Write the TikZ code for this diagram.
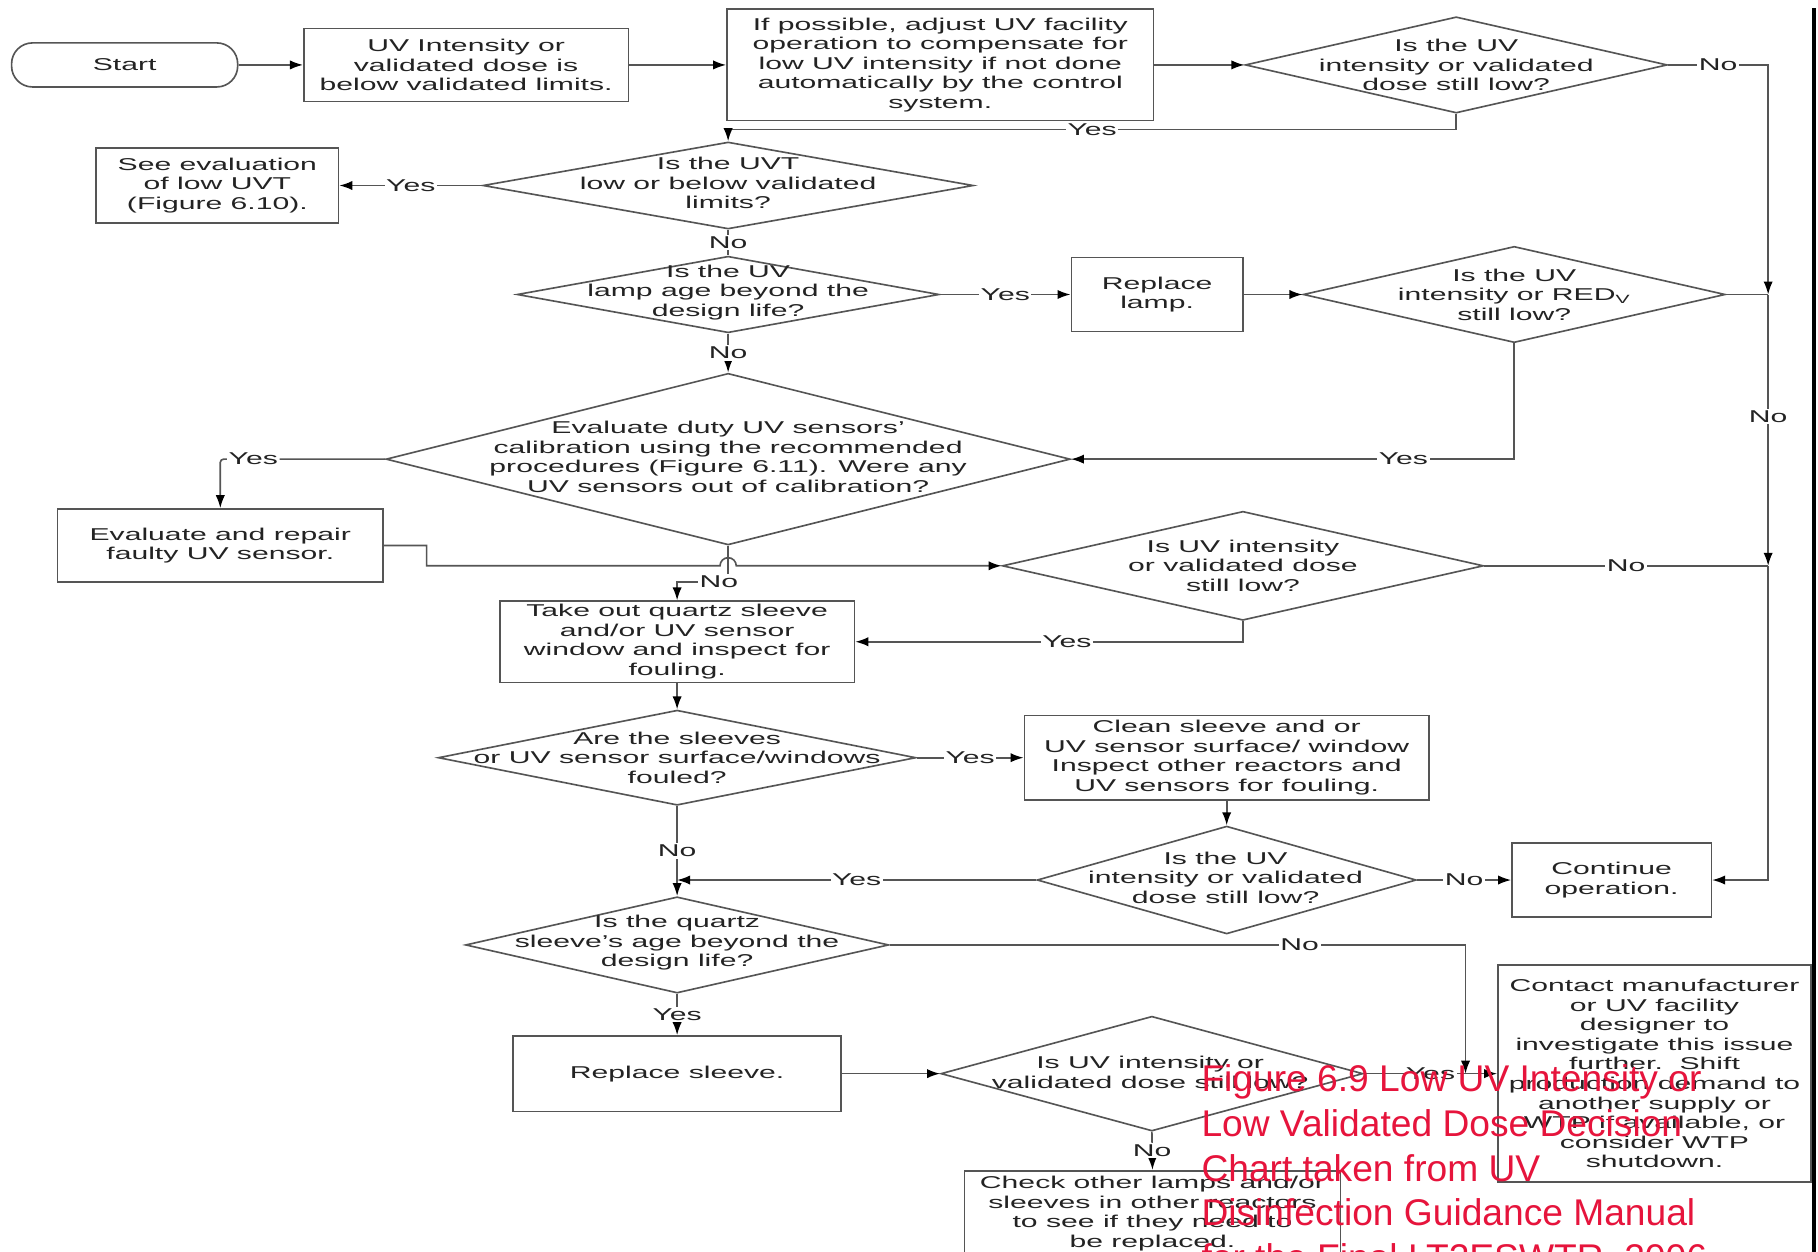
\documentclass[tikz,border=0pt]{standalone}
\usepackage{fontspec}
\setmainfont{Liberation Sans}[FakeStretch=1.76]
\newfontfamily\capfont{Liberation Sans}
\usepackage{tikz}
\usetikzlibrary{shapes.geometric, arrows.meta, calc}
\definecolor{linegray}{RGB}{85, 85, 85}
\definecolor{textgray}{RGB}{35, 35, 35}
\definecolor{capred}{RGB}{230, 20, 60}
\newcommand{\pxu}{0.025cm}

\tikzset{
  box/.style={draw=linegray, line width=1pt, fill=white, align=center, inner sep=1pt},
  dia/.style={draw=linegray, line width=1pt, shape=diamond, inner sep=0pt, fill=white},
  qtxt/.style={align=center, inner sep=0pt},
  lbl/.style={fill=white, inner sep=1pt},
  wire/.style={draw=linegray, line width=1pt},
  arr/.style={-{Latex[length=2.8mm, width=2mm, color=black]}},
  captxt/.style={text=capred, font=\capfont\fontsize{22.8}{27}\selectfont, inner sep=0pt}
}

\begin{document}
\begin{tikzpicture}[x=\pxu, y=-\pxu, font=\fontsize{10.5}{12}\selectfont, text=textgray]

  \useasboundingbox (0,0) rectangle (1568,1079);
  \fill[white] (0,0) rectangle (1568,1079);

  % edge of the page
  \draw[line width=0.08cm] (1564.5,7) -- (1564.5,1090);

  % boxes and decisions
  \node[box, rounded corners=0.45cm, minimum width=195*\pxu, minimum height=38*\pxu] (start) at (107.5,56) {Start};
  \node[box, minimum width=280*\pxu, minimum height=63*\pxu] (low) at (402,56) {UV Intensity or\\validated dose is\\below validated limits.};
  \node[box, minimum width=368*\pxu, minimum height=96*\pxu] (adjust) at (811,56) {If possible, adjust UV facility\\operation to compensate for\\low UV intensity if not done\\automatically by the control\\system.};
  \node[dia, minimum width=364*\pxu, minimum height=83*\pxu] (check1) at (1256,56) {};
  \node[qtxt] (check1-t) at (check1) {Is the UV\\intensity or validated\\dose still low?};

  \node[dia, minimum width=423*\pxu, minimum height=75*\pxu] (uvt) at (628,160) {};
  \node[qtxt] (uvt-t) at (628,158) {Is the UVT\\low or below validated\\limits?};
  \node[box, minimum width=209*\pxu, minimum height=65*\pxu] (seeuvt) at (187.5,160) {See evaluation\\of low UVT\\(Figure 6.10).};

  \node[dia, minimum width=364*\pxu, minimum height=66*\pxu] (lampage) at (628,254) {};
  \node[qtxt] (lampage-t) at (628,252) {Is the UV\\lamp age beyond the\\design life?};
  \node[box, minimum width=148*\pxu, minimum height=64*\pxu] (lamp) at (998,254) {Replace\\lamp.};
  \node[dia, minimum width=364*\pxu, minimum height=83*\pxu] (reduv) at (1306,254) {};
  \node[qtxt] (reduv-t) at (reduv) {Is the UV\\intensity or RED\textsubscript{V}\\still low?};

  \node[dia, minimum width=590*\pxu, minimum height=148*\pxu] (calib) at (628,396) {};
  \node[qtxt] (calib-t) at (628,394) {Evaluate duty UV sensors'\\calibration using the recommended\\procedures (Figure 6.11). Were any\\UV sensors out of calibration?};
  \node[box, minimum width=281*\pxu, minimum height=63*\pxu] (repair) at (190,470.5) {Evaluate and repair\\faulty UV sensor.};
  \node[dia, minimum width=415*\pxu, minimum height=94*\pxu] (recheck) at (1072,488) {};
  \node[qtxt] (recheck-t) at (recheck) {Is UV intensity\\or validated dose\\still low?};

  \node[box, minimum width=306*\pxu, minimum height=70*\pxu] (takeout) at (584,553.5) {Take out quartz sleeve\\and/or UV sensor\\window and inspect for\\fouling.};
  \node[dia, minimum width=412*\pxu, minimum height=82*\pxu] (fouled) at (584,653.5) {};
  \node[qtxt] (fouled-t) at (fouled) {Are the sleeves\\or UV sensor surface/windows\\fouled?};
  \node[box, minimum width=349*\pxu, minimum height=73*\pxu] (clean) at (1058,653.5) {Clean sleeve and or\\UV sensor surface/ window\\Inspect other reactors and\\UV sensors for fouling.};

  \node[dia, minimum width=327*\pxu, minimum height=93*\pxu] (recheck2) at (1058,759) {};
  \node[qtxt] (recheck2-t) at (1057,757) {Is the UV\\intensity or validated\\dose still low?};
  \node[box, minimum width=172*\pxu, minimum height=64*\pxu] (cont) at (1390,759) {Continue\\operation.};

  \node[dia, minimum width=365*\pxu, minimum height=83*\pxu] (sleeveage) at (584,815) {};
  \node[qtxt] (sleeveage-t) at (584,813) {Is the quartz\\sleeve's age beyond the\\design life?};
  \node[box, minimum width=283*\pxu, minimum height=65*\pxu] (sleeve) at (584,926) {Replace sleeve.};
  \node[dia, minimum width=364*\pxu, minimum height=99*\pxu] (recheck3) at (993.5,926) {};
  \node[qtxt] (recheck3-t) at (992,925) {Is UV intensity or\\validated dose still low?};
  \node[box, minimum width=270*\pxu, minimum height=187*\pxu] (contact) at (1427,926) {Contact manufacturer\\or UV facility\\designer to\\investigate this issue\\further.\ \ Shift\\production demand to\\another supply or\\WTP if available, or\\consider WTP\\shutdown.};
  \node[box, anchor=north, minimum width=324*\pxu, minimum height=74*\pxu] (others) at (994,1009) {Check other lamps and/or\\sleeves in other reactors\\to see if they need to\\be replaced.};

  % joints on the right hand line
  \coordinate (j1) at (1525,254);
  \coordinate (j2) at (1525,488);
  \coordinate (j3) at (1525,759);
  \coordinate (j4) at (584,759);
  \coordinate (j5) at (1264,926);

  % connectors
  \draw[wire, arr] (start) -- (low);
  \draw[wire, arr] (low) -- (adjust);
  \draw[wire, arr] (adjust) -- (check1);
  \draw[wire, arr] (check1.east) -- node[lbl] {No} (check1.east -| j1) -- (j1);
  \draw[wire, arr] (check1.south) |- node[lbl, pos=0.75] {Yes} ($(uvt.north)+(0,-10)$) -- (uvt.north);
  \draw[wire, arr] (uvt.west) -- node[lbl] {Yes} (seeuvt.east);
  \draw[wire] (uvt.south) -- node[lbl] {No} (lampage.north);
  \draw[wire, arr] (lampage.east) -- node[lbl] {Yes} (lamp.west);
  \draw[wire, arr] (lamp.east) -- (reduv.west);
  \draw[wire] (reduv.east) -- (j1);
  \draw[wire, arr] (lampage.south) -- node[lbl] {No} (calib.north);
  \draw[wire, arr] (reduv.south) |- node[lbl, pos=0.625] {Yes} (calib.east);
  \draw[wire, arr] (j1) -- node[lbl, pos=0.45] {No} (j2);
  \draw[wire, arr, rounded corners=2pt] (calib.west) -| node[lbl, pos=0.4] {Yes} (repair.north);
  \draw[wire, arr] (repair.east) -- (368,470.5) -- (368,488) -- (621,488)
    arc[start angle=180, end angle=0, radius=7*\pxu] -- (recheck.west);
  \draw[wire] (recheck.east) -- node[lbl] {No} (j2);
  \draw[wire, arr] (recheck.south) |- node[lbl, pos=0.727] {Yes} (takeout.east);
  \draw[wire, arr] (calib.south) -- (628,502) -- (takeout.north |- 0,502) -- (takeout.north);
  \node[lbl] (calib-no) at (620,502) {No};
  \draw[wire, arr] (takeout) -- (fouled);
  \draw[wire, arr] (fouled.east) -- node[lbl] {Yes} (clean.west);
  \draw[wire, arr] (clean) -- (recheck2);
  \draw[wire, arr] (recheck2.east) -- node[lbl] {No} (cont.west);
  \draw[wire, arr] (j2) -- (j3) -- (cont.east);
  \draw[wire, arr] (recheck2.west) -- node[lbl] {Yes} (j4);
  \draw[wire, arr] (fouled.south) -- node[lbl] {No} (sleeveage.north);
  \draw[wire, arr] (sleeveage.east) -| node[lbl, pos=0.356] {No} (j5);
  \draw[wire, arr] (sleeveage.south) -- node[lbl] {Yes} (sleeve.north);
  \draw[wire, arr] (sleeve.east) -- (recheck3.west);
  \draw[wire, arr] (recheck3.east) -- node[lbl] {Yes} (contact.west);
  \draw[wire, arr] (recheck3.south) -- node[lbl] {No} (others.north);

  % caption laid over the chart
  \foreach \t [count=\i] in {Figure 6.9 Low UV Intensity or, Low Validated Dose Decision, Chart taken from UV, Disinfection Guidance Manual, {for the Final LT2ESWTR, 2006}}
    \node[captxt, anchor=base west] (cap\i) at (1036, {941.6+38.5*(\i-1)}) {\t};

\end{tikzpicture}
\end{document}
